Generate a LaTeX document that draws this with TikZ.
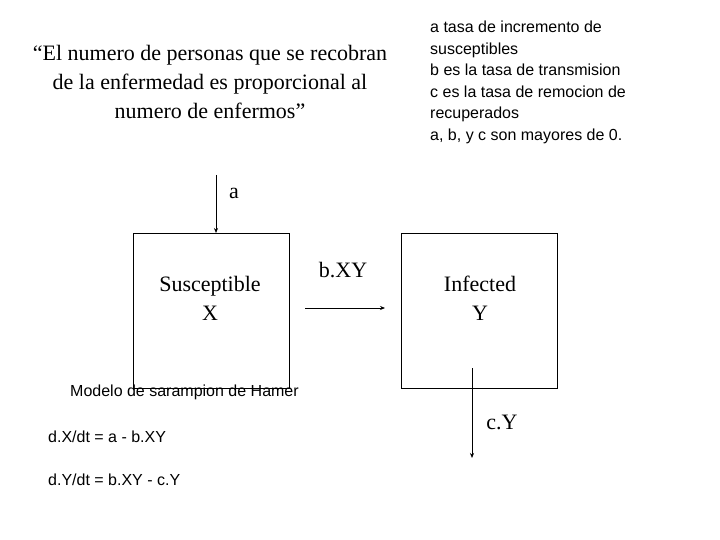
\documentclass[tikz,border=0pt]{standalone}
\usepackage{fontspec}
\setmainfont{Liberation Serif}
\newfontfamily\arial{Liberation Sans}
\usetikzlibrary{arrows.meta}
\begin{document}
\begin{tikzpicture}[x=1pt,y=-1pt,
  box/.style={draw,line width=0.8pt},
  ser/.style={font=\fontsize{22}{29}\selectfont,align=center},
  san/.style={font=\arial\fontsize{16}{21.5}\selectfont,align=left},
  arr/.style={-{Stealth[length=5pt,width=4pt]},line width=0.7pt}]
\useasboundingbox (0,0) rectangle (720,540);
\node[ser] (quote) at (210,82) {“El numero de personas que se recobran\\de la enfermedad es proporcional al\\numero de enfermos”};
\node[san,anchor=north west,inner sep=0pt] (defs) at (430,21) {a tasa de incremento de\\susceptibles\\b es la tasa de transmision\\c es la tasa de remocion de\\recuperados\\a, b, y c son mayores de 0.};
\draw[box] (133,233) rectangle (289,388);
\draw[box] (401,233) rectangle (557,388);
\node[ser] (sx) at (210,298) {Susceptible\\X};
\node[ser] (iy) at (480,298) {Infected\\Y};
\coordinate (atop) at (216,175);
\coordinate (abot) at (216,233);
\draw[arr] (atop) -- (abot);
\node[ser] (a) at (234,193) {a};
\coordinate (b1) at (305,308);
\coordinate (b2) at (385,308);
\draw[arr] (b1) -- (b2);
\node[ser] (bxy) at (343,270) {b.XY};
\coordinate (c1) at (472,368);
\coordinate (c2) at (472,458);
\draw[arr] (c1) -- (c2);
\node[ser] (cy) at (502,422) {c.Y};
\node[san,anchor=west,inner sep=0pt] (mod) at (70,392) {Modelo de sarampion de Hamer};
\node[san,anchor=west,inner sep=0pt] (dx) at (48,437) {d.X/dt = a - b.XY};
\node[san,anchor=west,inner sep=0pt] (dy) at (48,480) {d.Y/dt = b.XY - c.Y};
\end{tikzpicture}
\end{document}
